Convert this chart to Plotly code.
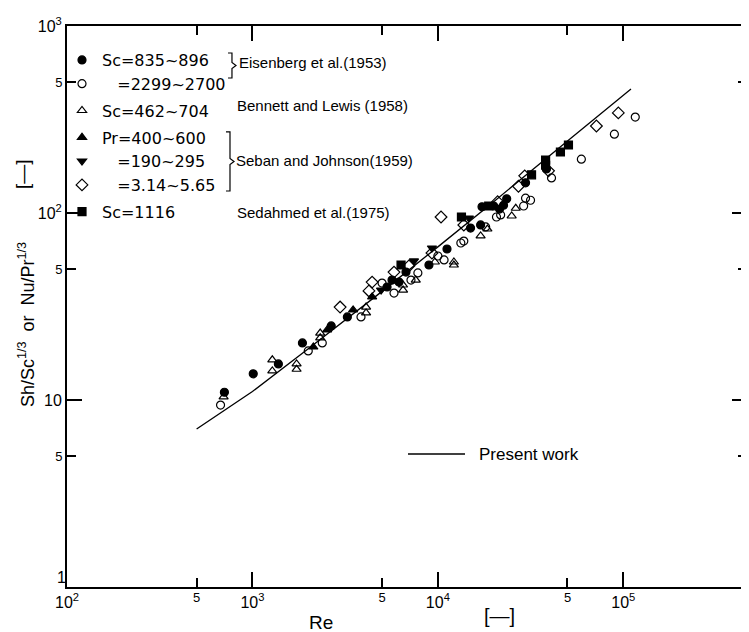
import plotly.graph_objects as go

# Sh/Sc^1/3 (or Nu/Pr^1/3) against Re
re_ei_a = [706, 1010, 1380, 1860, 2660, 3250, 5320, 5660, 6170, 6730, 8950, 11200,
           15000, 17000, 17300, 20000, 23500, 22600, 21500, 29700, 38500]
sh_ei_a = [11.0, 13.8, 15.6, 20.2, 24.9, 27.8, 40.2, 43.8, 42.7, 48.3, 52.7, 64.2,
           83.1, 86.3, 108, 109, 119, 110, 105, 145, 172]

re_ei_b = [673, 2000, 2380, 3850, 5000, 5800, 7160, 7800, 10000, 10800, 13300, 13800,
           18100, 21800, 20700, 29000, 29700, 31600, 41000, 59400, 89500, 116000]
sh_ei_b = [9.4, 18.3, 20.2, 27.8, 42.2, 37.3, 43.8, 47.8, 58.9, 56.1, 69.1, 70.8,
           84.2, 97.6, 95.2, 109, 120, 117, 154, 194, 264, 326]

re_be = [699, 1280, 1280, 1730, 1730, 2320, 2320, 4100, 4100, 6490, 6490, 7600,
         9640, 12200, 12200, 18500, 17000, 25000, 26300]
sh_be = [10.4, 16.4, 14.3, 15.6, 14.6, 22.8, 21.5, 31.4, 29.2, 38.7, 41.2, 43.8,
         54.7, 54.7, 52.7, 82.1, 75.4, 96.4, 106]

re_se_a = [2130, 2530, 3490, 4420]
sh_se_a = [19.2, 23.7, 30.3, 35.6]

re_se_b = [4940, 7430, 9290, 14700]
sh_se_b = [38.7, 55.4, 65.0, 94.0]

re_se_c = [2970, 4420, 4250, 5800, 6980, 9290, 10400, 13800, 21000, 27200, 29400,
           39500, 71600, 94000]
sh_se_c = [31.4, 42.7, 38.3, 48.3, 52.1, 61.1, 95.2, 86.3, 115, 139, 158,
           168, 292, 343]

re_sd = [6330, 13400, 18800, 32000, 38100, 38100, 45800, 50600]
sh_sd = [52.7, 95.2, 109, 160, 192, 180, 212, 231]

# present work correlation
re_pw = [500, 1000, 2000, 5000, 10000, 20000, 50000, 110000]
sh_pw = [7.0, 11.1, 18.8, 38.1, 65.9, 115, 243, 460]

FONT = "Liberation Sans"
LEGFONT = "DejaVu Sans"
# page body has an 8px margin, so the figure starts at (8, 8) on screen
OFF = 8
X0, X1, Y0, Y1 = 67, 747, 26, 587   # plot box on screen
W, H = 741, 624
L, T = X0 - OFF, Y0 - OFF
R, B = W - (X1 - OFF), H - (Y1 - OFF)
PW, PH = X1 - X0, Y1 - Y0


def px(x):
    return (x - X0) / PW


def py(y):
    return (Y1 - y) / PH


fig = go.Figure()

series = [
    (re_ei_a, sh_ei_a, "Sc=835~896", "circle", "g1"),
    (re_ei_b, sh_ei_b, "\u00a0\u00a0\u00a0=2299~2700", "circle-open", "g1"),
    (re_be, sh_be, "Sc=462~704", "triangle-up-open", "g2"),
    (re_se_a, sh_se_a, "Pr=400~600", "triangle-up", "g3"),
    (re_se_b, sh_se_b, "\u00a0\u00a0\u00a0=190~295", "triangle-down", "g3"),
    (re_se_c, sh_se_c, "\u00a0\u00a0\u00a0=3.14~5.65", "diamond-open", "g3"),
    (re_sd, sh_sd, "Sc=1116", "square", "g4"),
]
for xs, ys, name, sym, grp in series:
    size = 9 if "diamond" in sym else 8
    fig.add_trace(go.Scatter(x=xs, y=ys, mode="markers", name=name, legendgroup=grp,
                             marker=dict(symbol=sym, size=size, color="black",
                                         line=dict(color="black", width=1.2))))

fig.add_trace(go.Scatter(x=re_pw, y=sh_pw, mode="lines", showlegend=False,
                         line=dict(color="black", width=1.3)))
# hidden copies so the overlay axes (the "5" ticks and the "1" label) get drawn
fig.add_trace(go.Scatter(x=re_pw, y=sh_pw, mode="lines", xaxis="x2", yaxis="y2",
                         showlegend=False, hoverinfo="skip",
                         line=dict(color="rgba(0,0,0,0)")))
fig.add_trace(go.Scatter(x=re_pw, y=sh_pw, mode="lines", xaxis="x", yaxis="y3",
                         showlegend=False, hoverinfo="skip",
                         line=dict(color="rgba(0,0,0,0)")))

xr = [2, 5.667]
yr = [0, 3]
axfont = dict(family=FONT, size=16, color="black")
small = dict(family=FONT, size=13, color="black")
common = dict(showgrid=False, zeroline=False, showline=True, linecolor="black",
              linewidth=2, mirror="ticks", ticks="inside", tickwidth=1.5,
              tickcolor="black")

fig.update_layout(
    width=W, height=H,
    margin=dict(l=L, r=R, t=T, b=B, autoexpand=False),
    paper_bgcolor="white", plot_bgcolor="white",
    font=dict(family=FONT, color="black"),
    xaxis=dict(type="log", range=xr, ticklen=15,
               tickvals=[100, 1000, 10000, 100000],
               ticktext=["10<sup>2</sup>", "10<sup>3</sup>", "10<sup>4</sup>", "10<sup>5</sup>"],
               tickfont=axfont, **common),
    xaxis2=dict(type="log", range=xr, overlaying="x", anchor="y", side="bottom",
                ticklen=9, tickvals=[500, 5000, 50000], ticktext=["5", "5", "5"],
                ticklabelstandoff=-3, tickfont=small, **common),
    yaxis=dict(type="log", range=yr, ticklen=15,
               tickvals=[10, 100, 1000],
               ticktext=["10", "10<sup>2</sup>", "10<sup>3</sup>"],
               tickfont=axfont, **common),
    yaxis2=dict(type="log", range=yr, overlaying="y", anchor="x", side="left",
                ticklen=9, tickvals=[5, 50, 500], ticktext=["5", "5", "5"],
                tickfont=small, **common),
    yaxis3=dict(type="log", range=yr, overlaying="y", anchor="x", side="left",
                showgrid=False, zeroline=False, showline=False, ticks="",
                tickvals=[1], ticktext=["1"], ticklabelshift=-10, tickfont=axfont),
    legend=dict(x=px(62), y=py(43), xanchor="left", yanchor="top",
                bgcolor="rgba(0,0,0,0)", borderwidth=0, tracegroupgap=3,
                traceorder="grouped", font=dict(family=LEGFONT, size=16, color="black")),
)


def text(t, x, y, size, xanchor="center", angle=0):
    fig.add_annotation(x=px(x), y=py(y), xref="paper", yref="paper", text=t,
                       showarrow=False, xanchor=xanchor, yanchor="middle",
                       textangle=angle, font=dict(family=FONT, size=size, color="black"))


refs = [
    ("Eisenberg et al.(1953)", 237, 63),
    ("Bennett and Lewis (1958)", 235, 105),
    ("Seban and Johnson(1959)", 234, 160),
    ("Sedahmed et al.(1975)", 235, 212),
]
for t, x0, y0 in refs:
    text(t, x0, y0, 15, xanchor="left")


def brace(x0, ytop, ybot):
    ym = (ytop + ybot) / 2
    pts = [(x0 - 4, ytop), (x0, ytop), (x0, ym - 3), (x0 + 4, ym), (x0, ym + 3),
           (x0, ybot), (x0 - 4, ybot)]
    path = "M" + " L".join(f"{px(a):.4f},{py(b):.4f}" for a, b in pts)
    fig.add_shape(type="path", path=path, xref="paper", yref="paper",
                  line=dict(color="black", width=1.2))


brace(232, 53, 78)
brace(230, 132, 191)

# legend entry for the line
fig.add_shape(type="line", xref="paper", yref="paper", x0=px(408), x1=px(465),
              y0=py(454), y1=py(454), line=dict(color="black", width=1.3))
text("Present work", 477, 454, 17, xanchor="left")

# axis titles
text("Re", 321, 622, 19)
text("[\u2014]", 499, 616, 20)
text("Sh/Sc<sup>1/3</sup>  or  Nu/Pr<sup>1/3</sup>", 26, 325, 18, angle=-90)
text("[\u2014]", 22, 174, 19, angle=-90)

fig.write_html("out.html")
